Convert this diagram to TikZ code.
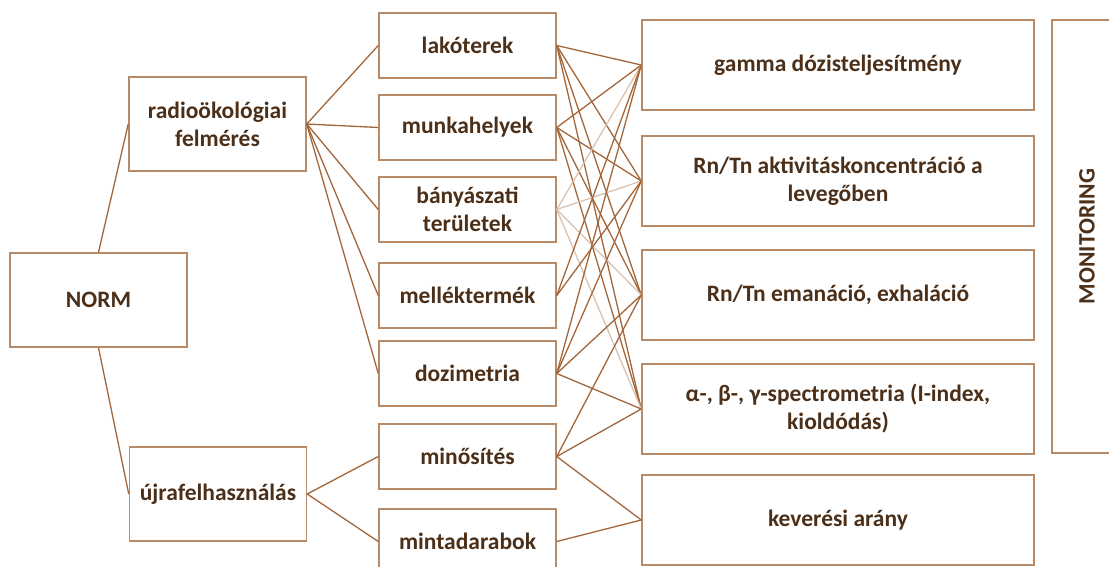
\documentclass[tikz,border=0pt]{standalone}
\usepackage{fontspec}
\setmainfont{Carlito}
\usepackage{tikz}
\usetikzlibrary{positioning}
\definecolor{boxbrown}{HTML}{B88B68}
\definecolor{wirebrown}{HTML}{A2663A}
\definecolor{inkbrown}{HTML}{4B2F18}

\begin{document}
\begin{tikzpicture}[x=1pt, y=-1pt,
  font=\bfseries\fontsize{23.5}{28}\selectfont,
  cell/.style={draw=boxbrown, line width=1.5pt, text=inkbrown, align=center,
    inner sep=0pt, minimum width=177pt, minimum height=65pt},
  bigcell/.style={cell, minimum height=94pt},
  widecell/.style={cell, minimum width=392pt, minimum height=90pt},
  wire/.style={wirebrown, line width=1.3pt},
  faint/.style={wirebrown!40, line width=1.3pt}]
  \useasboundingbox (0,0) rectangle (1109,567);

  % left: root and the two branches
  \node[bigcell] (norm) at (98.5,300) {NORM};
  \node[bigcell] (radio) at (217.5,124) {radioökológiai\\felmérés};
  \node[bigcell] (ujra) at (218,494) {újrafelhasználás};

  % middle column
  \node[cell] (lako) at (467.5,45.5) {lakóterek};
  \node[cell] (munka) at (467.5,127.5) {munkahelyek};
  \node[cell] (banya) at (467.5,209.5) {bányászati\\területek};
  \node[cell] (mellek) at (467.5,295.5) {melléktermék};
  \node[cell] (dozi) at (467.5,373.5) {dozimetria};
  \node[cell] (minos) at (467.5,456.5) {minősítés};
  \node[cell] (minta) at (467.5,541.5) {mintadarabok};

  % right column
  \node[widecell] (gamma) at (838,65) {gamma dózisteljesítmény};
  \node[widecell] (rnlev) at (838,181) {Rn/Tn aktivitáskoncentráció a\\levegőben};
  \node[widecell] (rnema) at (838,295) {Rn/Tn emanáció, exhaláció};
  \node[widecell] (spec) at (838,409) {α-, β-, γ-spectrometria (I-index,\\kioldódás)};
  \node[widecell] (kever) at (838,520) {keverési arány};
  \node[cell, minimum width=70pt, minimum height=433pt] (moni) at (1087,236.5)
    {\rotatebox{90}{MONITORING}};

  % tree on the left
  \draw[wire] (norm.north) -- (radio.west);
  \draw[wire] (norm.south) -- (ujra.west);
  \draw[wire] (radio.east) -- (lako.west);
  \draw[wire] (radio.east) -- (munka.west);
  \draw[wire] (radio.east) -- (banya.west);
  \draw[wire] (radio.east) -- (mellek.west);
  \draw[wire] (radio.east) -- (dozi.west);
  \draw[wire] (ujra.east) -- (minos.west);
  \draw[wire] (ujra.east) -- (minta.west);

  % the web between middle and right
  \draw[wire] (lako.east) -- (gamma.west);
  \draw[wire] (lako.east) -- (rnlev.west);
  \draw[wire] (lako.east) -- (rnema.west);
  \draw[wire] (lako.east) -- (spec.west);
  \draw[wire] (munka.east) -- (gamma.west);
  \draw[wire] (munka.east) -- (rnlev.west);
  \draw[wire] (munka.east) -- (rnema.west);
  \draw[wire] (munka.east) -- (spec.west);
  \draw[faint] (banya.east) -- (gamma.west);
  \draw[faint] (banya.east) -- (rnlev.west);
  \draw[faint] (banya.east) -- (rnema.west);
  \draw[faint] (banya.east) -- (spec.west);
  \draw[wire] (mellek.east) -- (gamma.west);
  \draw[wire] (mellek.east) -- (rnlev.west);
  \draw[wire] (dozi.east) -- (gamma.west);
  \draw[wire] (dozi.east) -- (rnlev.west);
  \draw[wire] (dozi.east) -- (rnema.west);
  \draw[wire] (dozi.east) -- (spec.west);
  \draw[wire] (minos.east) -- (rnema.west);
  \draw[wire] (minos.east) -- (spec.west);
  \draw[wire] (minos.east) -- (kever.west);
  \draw[wire] (minta.east) -- (kever.west);
\end{tikzpicture}
\end{document}
